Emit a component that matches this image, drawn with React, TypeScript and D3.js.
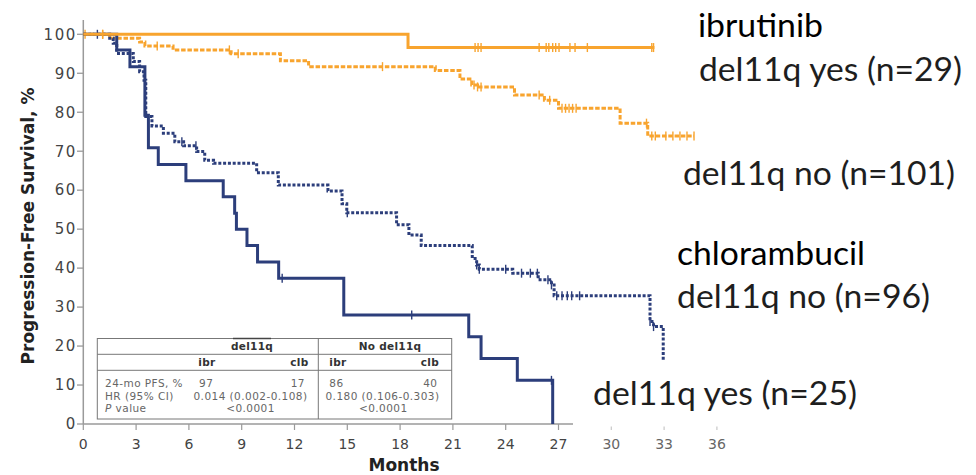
import React from "react";
import * as d3 from "d3";

// ---------- data ----------
const monthTicks = [0, 3, 6, 9, 12, 15, 18, 21, 24, 27, 30, 33, 36];
const survTicks = [0, 10, 20, 30, 40, 50, 60, 70, 80, 90, 100];

// ibrutinib, del11q yes (n=29) – step times / levels after step
const ibrYesTimes = [0, 18.45];
const ibrYesSurv = [100, 96.6];
const ibrYesEnd = 32.45;
const ibrYesCensor = [1.1, 22.26, 22.43, 22.6, 25.9, 26.3, 26.45, 26.67, 26.84, 27.03, 27.65, 27.94, 28.64, 32.3, 32.4];

// ibrutinib, del11q no (n=101)
const ibrNoTimes = [0, 1.5, 3.2, 3.5, 5.1, 8.4, 11.2, 12.8, 20.0, 21.4, 22.07, 22.4, 24.5, 26.2, 27.0, 30.5, 32.07];
const ibrNoSurv = [100, 99.0, 98.0, 97.0, 96.0, 95.0, 93.2, 91.7, 90.7, 88.5, 87.0, 86.5, 84.4, 83.1, 81.0, 77.2, 73.9];
const ibrNoEnd = 34.7;
const ibrNoCensor = [0.1, 1.1, 4.2, 8.3, 8.8, 17.0, 22.2, 22.4, 22.6, 25.9, 26.5, 27.2, 27.4, 27.6, 27.8, 28.0, 32.0, 32.3, 32.5, 33.1, 33.5, 33.9, 34.3, 34.7];

// chlorambucil, del11q yes (n=25)
const clbYesTimes = [0, 1.9, 2.65, 3.5, 3.7, 4.26, 5.83, 7.95, 8.6, 8.7, 9.3, 9.9, 11.1, 14.8, 21.9, 22.6, 24.66, 26.67];
const clbYesSurv = [100, 96.0, 91.7, 79.2, 70.9, 66.6, 62.4, 58.3, 54.1, 50.0, 45.8, 41.6, 37.4, 28.0, 22.4, 16.8, 11.2, 0];
const clbYesEnd = 26.67;
const clbYesCensor = [0.8, 11.3, 18.66, 26.6];

// chlorambucil, del11q no (n=96)
const clbNoTimes = [0, 1.5, 1.7, 1.9, 2.84, 3.2, 3.45, 3.55, 3.9, 4.55, 5.2, 5.7, 6.44, 6.9, 7.4, 9.85, 11.08, 13.9, 14.7, 14.97, 17.8, 18.5, 19.2, 22.1, 22.35, 22.5, 24.4, 25.85, 26.6, 26.75, 32.2, 32.4, 32.95];
const clbNoSurv = [100, 99.0, 97.7, 95.1, 93.0, 90.4, 88.2, 78.9, 76.5, 74.6, 72.4, 71.4, 69.9, 67.7, 66.9, 64.5, 61.3, 59.8, 56.5, 54.2, 51.1, 48.5, 45.8, 42.5, 40.8, 39.7, 38.7, 37.0, 35.7, 32.9, 26.3, 25.0, 16.4];
const clbNoEnd = 32.95;
const clbNoCensor = [5.6, 6.4, 15.0, 22.35, 22.5, 24.0, 24.9, 25.4, 25.8, 26.4, 26.6, 26.9, 27.2, 27.5, 27.75, 28.2, 32.2, 32.4];

// table text
const tableGroups = ["del11q", "No del11q"];
const tableArms = ["ibr", "clb"];
const tableRowLabels = ["24-mo PFS, %", "HR (95% CI)", "value"];
const pfsValues = ["97", "17", "86", "40"];
const hrValues = ["0.014 (0.002-0.108)", "0.180 (0.106-0.303)"];
const pValues = ["<0.0001", "<0.0001"];

// legend labels
const legendLabels = ["ibrutinib", "del11q yes (n=29)", "del11q no (n=101)", "chlorambucil", "del11q no (n=96)", "del11q yes (n=25)"];

// ---------- styles ----------
const ORANGE = "#F8A42E";
const NAVY = "#2C3E7B";
const AXIS = "#9a9a9a";
const LABEL = "#444";
const TICKFONT = "'DejaVu Sans', sans-serif";
const LEGENDFONT = "Lato, 'Open Sans', sans-serif";

const x = d3.scaleLinear().domain([0, 36]).range([83.3, 716.9]);
const y = d3.scaleLinear().domain([0, 100]).range([424, 34.3]);

type Series = { times: number[]; surv: number[]; end: number; censor: number[]; color: string; dash?: string };

const series: Series[] = [
  { times: ibrNoTimes, surv: ibrNoSurv, end: ibrNoEnd, censor: ibrNoCensor, color: ORANGE, dash: "4.5 1.8" },
  { times: clbNoTimes, surv: clbNoSurv, end: clbNoEnd, censor: clbNoCensor, color: NAVY, dash: "3 1.8" },
  { times: clbYesTimes, surv: clbYesSurv, end: clbYesEnd, censor: clbYesCensor, color: NAVY },
  { times: ibrYesTimes, surv: ibrYesSurv, end: ibrYesEnd, censor: ibrYesCensor, color: ORANGE },
];

function levelAt(s: Series, t: number) {
  let v = s.surv[0];
  for (let i = 0; i < s.times.length; i++) if (s.times[i] <= t) v = s.surv[i];
  return v;
}

const stepLine = d3
  .line<[number, number]>()
  .x((d) => x(d[0]))
  .y((d) => y(d[1]))
  .curve(d3.curveStepAfter);

function pathFor(s: Series) {
  const pts: [number, number][] = s.times.map((t, i) => [t, s.surv[i]]);
  const last = pts[pts.length - 1];
  if (last[0] < s.end) pts.push([s.end, last[1]]);
  return stepLine(pts) || "";
}

export default function App() {
  const tblL = 97.3, tblR = 451.7, tblT = 338.5, tblB = 419, tblDiv = 318.3;
  const row1 = 354.3, row2 = 370.3;
  const tf = { fontFamily: TICKFONT, fontSize: 10.5, letterSpacing: 0.45, fill: "#666" } as const;
  const tb = { fontFamily: TICKFONT, fontSize: 10.5, letterSpacing: 0.3, fill: "#333", fontWeight: 700 } as const;
  const legendPos = [
    { x: 698, y: 37, w: 125, bold: true },
    { x: 699, y: 81, w: 263, bold: false },
    { x: 683, y: 185, w: 272, bold: false },
    { x: 677, y: 265, w: 188, bold: true },
    { x: 677, y: 308, w: 253, bold: false },
    { x: 593, y: 405, w: 264, bold: false },
  ];
  return (
    <svg width={976} height={475} style={{ position: "absolute", left: 0, top: 0, background: "#fff" }}>
      <rect width={976} height={475} fill="#fff" />
      {/* y axis */}
      <line x1={x(0)} x2={x(0)} y1={20} y2={y(0)} stroke={AXIS} strokeWidth={1.5} />
      {survTicks.map((v) => (
        <g key={"y" + v}>
          <line x1={77} x2={x(0)} y1={y(v)} y2={y(v)} stroke={AXIS} strokeWidth={1.3} />
          <text x={77} y={y(v) + 5.3} textAnchor="end" fontFamily={TICKFONT} fontSize={15} letterSpacing={1.6} fill={LABEL}>
            {v}
          </text>
        </g>
      ))}
      {/* x axis */}
      <line x1={x(0)} x2={573} y1={y(0)} y2={y(0)} stroke={AXIS} strokeWidth={1.5} />
      {monthTicks.map((m) => (
        <g key={"x" + m}>
          {m <= 27 ? (
            <line x1={x(m)} x2={x(m)} y1={y(0)} y2={y(0) + 6} stroke={AXIS} strokeWidth={1.2} />
          ) : (
            <line x1={x(m)} x2={x(m)} y1={y(0) + 2.5} y2={y(0) + 6} stroke="#c8c8c8" strokeWidth={1.2} />
          )}
          <text x={x(m)} y={448.5} textAnchor="middle" fontFamily={TICKFONT} fontSize={14} fill={m <= 27 ? LABEL : "#666"}>
            {m}
          </text>
        </g>
      ))}
      <text x={404} y={471} textAnchor="middle" fontFamily={TICKFONT} fontSize={17} fontWeight={700} fill="#222">
        Months
      </text>
      <text
        transform={`translate(34,226) rotate(-90)`}
        textAnchor="middle"
        fontFamily={TICKFONT}
        fontSize={17}
        fontWeight={700}
        fill="#222"
      >
        Progression-Free Survival, %
      </text>

      {/* curves */}
      {series.map((s, i) => (
        <g key={"s" + i}>
          <path d={pathFor(s)} fill="none" stroke={s.color} strokeWidth={3} strokeDasharray={s.dash} />
          {s.censor.map((c, j) => (
            <line key={j} x1={x(c)} x2={x(c)} y1={y(levelAt(s, c)) - 4.5} y2={y(levelAt(s, c)) + 4.5} stroke={s.color} strokeWidth={1.4} />
          ))}
        </g>
      ))}

      {/* table */}
      <rect x={tblL} y={tblT} width={tblR - tblL} height={tblB - tblT} fill="#fff" stroke="#777" strokeWidth={1} />
      <line x1={tblDiv} x2={tblDiv} y1={tblT} y2={tblB} stroke="#777" />
      <line x1={tblL} x2={tblR} y1={row1} y2={row1} stroke="#777" />
      <line x1={tblL} x2={tblR} y1={row2} y2={row2} stroke="#777" />
      <line x1={233} x2={271} y1={tblT} y2={tblT} stroke="#444" strokeWidth={1.3} />
      <text x={252} y={350} textAnchor="middle" {...tb}>{tableGroups[0]}</text>
      <text x={390} y={350} textAnchor="middle" {...tb}>{tableGroups[1]}</text>
      <text x={198.3} y={366} {...tb}>{tableArms[0]}</text>
      <text x={308.5} y={366} textAnchor="end" {...tb}>{tableArms[1]}</text>
      <text x={329.3} y={366} {...tb}>{tableArms[0]}</text>
      <text x={439} y={366} textAnchor="end" {...tb}>{tableArms[1]}</text>
      <text x={105} y={387} {...tf}>{tableRowLabels[0]}</text>
      <text x={105} y={399.5} {...tf}>{tableRowLabels[1]}</text>
      <text x={105} y={412} {...tf}>
        <tspan fontStyle="italic">P</tspan> {tableRowLabels[2]}
      </text>
      <text x={199} y={387} {...tf}>{pfsValues[0]}</text>
      <text x={305} y={387} textAnchor="end" {...tf}>{pfsValues[1]}</text>
      <text x={329.3} y={387} {...tf}>{pfsValues[2]}</text>
      <text x={437.5} y={387} textAnchor="end" {...tf}>{pfsValues[3]}</text>
      <text x={250.5} y={399.5} textAnchor="middle" {...tf}>{hrValues[0]}</text>
      <text x={382.5} y={399.5} textAnchor="middle" {...tf}>{hrValues[1]}</text>
      <text x={250.5} y={412} textAnchor="middle" {...tf}>{pValues[0]}</text>
      <text x={383.3} y={412} textAnchor="middle" {...tf}>{pValues[1]}</text>

      {/* legend labels */}
      {legendLabels.map((t, i) => (
        <text
          key={"l" + i}
          x={legendPos[i].x}
          y={legendPos[i].y}
          fontFamily={LEGENDFONT}
          fontSize={32}
          fill={legendPos[i].bold ? "#000" : "#1e1e1e"}
          textLength={legendPos[i].w}
          lengthAdjust="spacingAndGlyphs"
        >
          {t}
        </text>
      ))}
    </svg>
  );
}
